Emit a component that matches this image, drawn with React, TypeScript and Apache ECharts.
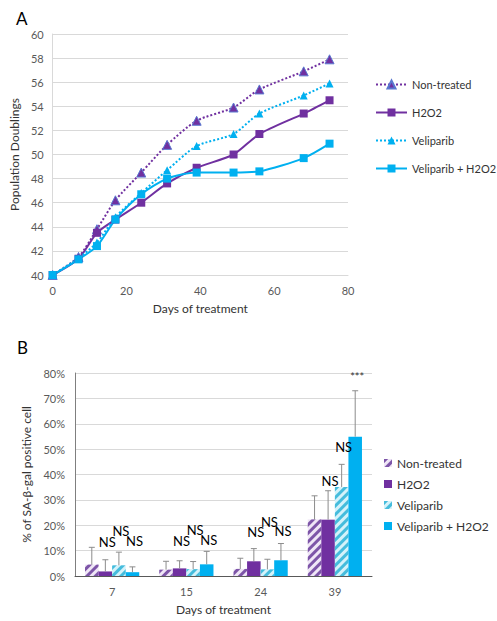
import React, { useEffect, useRef } from "react";
import * as echarts from "echarts";

// ---------- Panel A data ----------
const days = [0, 7, 12, 17, 24, 31, 39, 49, 56, 68, 75];
const nonTreatedPD = [40, 41.5, 43.8, 46.2, 48.5, 50.8, 52.8, 53.9, 55.4, 56.9, 57.9];
const h2o2PD = [40, 41.35, 43.5, 44.6, 46.0, 47.6, 48.9, 50.0, 51.7, 53.4, 54.5];
const veliparibPD = [40, 41.4, 42.7, 44.8, 46.8, 48.7, 50.7, 51.7, 53.4, 54.9, 55.9];
const velH2o2PD = [40, 41.3, 42.4, 44.6, 46.7, 48.0, 48.5, 48.5, 48.6, 49.7, 50.9];

// ---------- Panel B data ----------
const sampleDays = ["7", "15", "24", "39"];
const nonTreatedPct = [4.5, 2.5, 2.8, 22.3];
const nonTreatedErr = [6.8, 3.3, 4.2, 9.3];
const h2o2Pct = [1.8, 3.0, 5.8, 22.2];
const h2o2Err = [4.6, 3.0, 5.0, 11.4];
const veliparibPct = [4.2, 2.7, 2.6, 35.1];
const veliparibErr = [5.2, 3.0, 4.0, 8.9];
const velH2o2Pct = [1.5, 4.6, 6.2, 54.9];
const velH2o2Err = [2.1, 5.1, 6.6, 18.1];

// significance annotations: [category index, bar index, height (%), text]
const sigCat = [0, 0, 0, 1, 1, 1, 2, 2, 2, 3, 3, 3];
const sigBar = [1, 2, 3, 1, 2, 3, 1, 2, 3, 1, 2, 3];
const sigY = [13.3, 17.7, 13.9, 13.6, 18.0, 14.0, 17.4, 21.3, 17.9, 37.5, 51.0, 78.6];
const sigText = ["NS", "NS", "NS", "NS", "NS", "NS", "NS", "NS", "NS", "NS", "NS", "***"];

const names = ["Non-treated", "H2O2", "Veliparib", "Veliparib + H2O2"];
const PURPLE = "#7030A0";
const CYAN = "#00B0F0";
const FONT = "Lato";
const GAP = 0.27;

function ChartA() {
  const ref = useRef<HTMLDivElement>(null);
  useEffect(() => {
    const chart = echarts.init(ref.current!, null, { renderer: "svg" });
    const mk = (arr: number[]) => days.map((d, i) => [d, arr[i]]);
    chart.setOption({
      animation: false,
      title: { text: "A", left: 11, top: 5, textStyle: { fontSize: 17, fontWeight: "normal", color: "#000", fontFamily: FONT } },
      grid: { left: 52, top: 34, width: 296, height: 241 },
      legend: {
        orient: "vertical", left: 370, top: 74, itemGap: 17, itemWidth: 31, itemHeight: 10,
        textStyle: { fontSize: 11, fontFamily: FONT, color: "#333" },
        data: names,
      },
      xAxis: {
        type: "value", min: 0, max: 80, interval: 20,
        name: "Days of treatment", nameLocation: "middle", nameGap: 27,
        nameTextStyle: { fontSize: 12, fontFamily: FONT, color: "#333" },
        axisLine: { lineStyle: { color: "#d9d9d9" } }, axisTick: { show: false },
        axisLabel: { fontSize: 11, fontFamily: FONT, color: "#595959", margin: 10 },
        splitLine: { show: false },
      },
      yAxis: {
        type: "value", min: 40, max: 60, interval: 2,
        name: "Population Doublings", nameLocation: "middle", nameGap: 28,
        nameTextStyle: { fontSize: 12, fontFamily: FONT, color: "#333" },
        axisLine: { show: true, lineStyle: { color: "#d9d9d9" } }, axisTick: { show: false },
        axisLabel: { fontSize: 11, fontFamily: FONT, color: "#595959", margin: 9 },
        splitLine: { lineStyle: { color: "#d9d9d9" } },
      },
      series: [
        {
          name: names[0], type: "line", data: mk(nonTreatedPD), smooth: 0.25,
          symbol: "triangle", symbolSize: 9,
          lineStyle: { color: PURPLE, width: 2, type: [2, 2] },
          itemStyle: { color: PURPLE, borderColor: "#5a78d0", borderWidth: 1 },
        },
        {
          name: names[1], type: "line", data: mk(h2o2PD), smooth: 0.25,
          symbol: "rect", symbolSize: 8,
          lineStyle: { color: PURPLE, width: 2 },
          itemStyle: { color: PURPLE },
        },
        {
          name: names[2], type: "line", data: mk(veliparibPD), smooth: 0.25,
          symbol: "triangle", symbolSize: 8,
          lineStyle: { color: CYAN, width: 2, type: [2, 2] },
          itemStyle: { color: CYAN },
        },
        {
          name: names[3], type: "line", data: mk(velH2o2PD), smooth: 0.25,
          symbol: "rect", symbolSize: 8,
          lineStyle: { color: CYAN, width: 2 },
          itemStyle: { color: CYAN },
        },
      ],
    });
    return () => chart.dispose();
  }, []);
  return <div ref={ref} style={{ position: "absolute", left: 0, top: 0, width: 497, height: 330 }} />;
}

function ChartB() {
  const ref = useRef<HTMLDivElement>(null);
  useEffect(() => {
    const chart = echarts.init(ref.current!, null, { renderer: "svg" });
    const means = [nonTreatedPct, h2o2Pct, veliparibPct, velH2o2Pct];
    const errs = [nonTreatedErr, h2o2Err, veliparibErr, velH2o2Err];
    const barX = (api: any, cat: number, k: number) => {
      const c = api.coord([cat, 0]);
      const band = api.size([1, 0])[0];
      const gw = band * (1 - GAP);
      const bw = gw / 4;
      return c[0] - gw / 2 + bw * (k + 0.5);
    };
    const styles = [
      {
        color: "#efe6f6",
        decal: { symbol: "rect", symbolSize: 1, dashArrayX: [1, 0], dashArrayY: [3, 3], rotation: -Math.PI / 4, color: "#7d55a8" },
      },
      { color: PURPLE },
      {
        color: "#d4f2fa",
        decal: { symbol: "rect", symbolSize: 1, dashArrayX: [1, 0], dashArrayY: [3, 3], rotation: -Math.PI / 4, color: "#45bcdc" },
      },
      { color: CYAN },
    ];
    const barSeries = names.map((n, k) => ({
      name: n, type: "bar", data: means[k], barGap: "0%", barCategoryGap: GAP * 100 + "%",
      itemStyle: styles[k],
    }));
    const errSeries = names.map((n, k) => ({
      type: "custom", z: 5, silent: true,
      data: means[k].map((m, i) => [i, m, m + errs[k][i]]),
      encode: { x: 0, y: [1, 2] },
      renderItem: (params: any, api: any) => {
        const cat = api.value(0);
        const x = barX(api, cat, k);
        const y1 = api.coord([cat, api.value(1)])[1];
        const y2 = api.coord([cat, api.value(2)])[1];
        const st = { stroke: "#8c8c8c", lineWidth: 1 };
        return {
          type: "group",
          children: [
            { type: "line", shape: { x1: x, y1, x2: x, y2 }, style: st },
            { type: "line", shape: { x1: x - 3, y1: y2, x2: x + 3, y2 }, style: st },
          ],
        };
      },
    }));
    const sigSeries = {
      type: "custom", z: 6, silent: true,
      data: sigCat.map((c, i) => [c, sigY[i]]),
      encode: { x: 0, y: 1 },
      renderItem: (params: any, api: any) => {
        const i = params.dataIndex;
        const cat = api.value(0);
        const x = barX(api, cat, sigBar[i]) + 2;
        const y = api.coord([cat, api.value(1)])[1];
        const isStar = sigText[i] === "***";
        return {
          type: "text",
          style: {
            text: sigText[i], x, y, align: "center", verticalAlign: "middle",
            fontSize: isStar ? 11 : 13, fontFamily: FONT, fill: isStar ? "#333" : "#000",
          },
        };
      },
    };
    chart.setOption({
      animation: false,
      title: { text: "B", left: 12, top: 4, textStyle: { fontSize: 17, fontWeight: "normal", color: "#000", fontFamily: FONT } },
      grid: { left: 75, top: 43, width: 297, height: 203 },
      legend: {
        orient: "vertical", left: 379, top: 122, itemGap: 9, itemWidth: 8, itemHeight: 8,
        icon: "rect",
        textStyle: { fontSize: 12, fontFamily: FONT, color: "#333" },
        data: names,
      },
      xAxis: {
        type: "category", data: sampleDays,
        name: "Days of treatment", nameLocation: "middle", nameGap: 27,
        nameTextStyle: { fontSize: 12, fontFamily: FONT, color: "#333" },
        axisLine: { lineStyle: { color: "#595959" } }, axisTick: { show: false },
        axisLabel: { fontSize: 11, fontFamily: FONT, color: "#595959", margin: 10 },
      },
      yAxis: {
        type: "value", min: 0, max: 80, interval: 10,
        name: "% of SA-β-gal positive cell", nameLocation: "middle", nameGap: 37,
        nameTextStyle: { fontSize: 12, fontFamily: FONT, color: "#333" },
        axisLine: { show: true, lineStyle: { color: "#7f7f7f" } }, axisTick: { show: false },
        axisLabel: { fontSize: 11, fontFamily: FONT, color: "#595959", margin: 10, formatter: "{value}%" },
        splitLine: { lineStyle: { color: "#d9d9d9" } },
      },
      series: [...barSeries, ...errSeries, sigSeries],
    });
    return () => chart.dispose();
  }, []);
  return <div ref={ref} style={{ position: "absolute", left: 0, top: 330, width: 497, height: 291 }} />;
}

export default function App() {
  return (
    <div style={{ position: "absolute", left: 0, top: 0, width: 497, height: 621, background: "#fff" }}>
      <ChartA />
      <ChartB />
    </div>
  );
}
